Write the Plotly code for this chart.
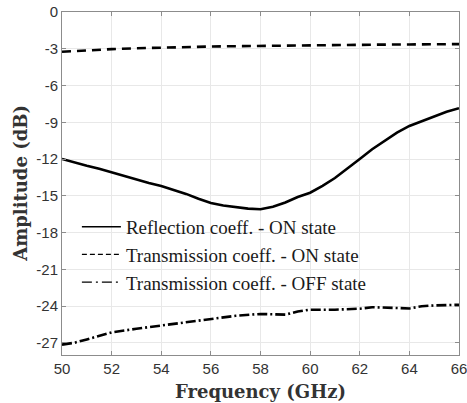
import plotly.graph_objects as go

# Reflection coefficient - ON state
freq_refl = [50, 50.5, 51, 51.5, 52, 52.5, 53, 53.5, 54, 54.5, 55, 55.5, 56, 56.5, 57, 57.5,
             58, 58.5, 59, 59.5, 60, 60.5, 61, 61.5, 62, 62.5, 63, 63.5, 64, 64.5, 65, 65.5, 66]
refl_on = [-12.0, -12.3, -12.55, -12.8, -13.1, -13.35, -13.65, -13.95, -14.2, -14.5, -14.85, -15.25,
           -15.6, -15.8, -15.95, -16.05, -16.1, -15.9, -15.55, -15.1, -14.75, -14.2, -13.55, -12.8,
           -12.0, -11.2, -10.5, -9.85, -9.3, -8.9, -8.5, -8.15, -7.85]

# Transmission coefficient - ON state
freq_tx_on = [50, 51, 52, 53, 54, 55, 56, 57, 58, 59, 60, 61, 62, 63, 64, 65, 66]
tx_on = [-3.25, -3.12, -3.03, -2.96, -2.9, -2.86, -2.82, -2.79, -2.76, -2.73, -2.71, -2.69,
         -2.68, -2.66, -2.65, -2.63, -2.62]

# Transmission coefficient - OFF state
freq_tx_off = [50, 50.5, 51, 51.5, 52, 53, 54, 55, 56, 57, 58, 59, 59.5, 60, 61, 62, 62.5, 63,
               63.5, 64, 64.5, 65, 66]
tx_off = [-27.15, -27.0, -26.73, -26.45, -26.15, -25.86, -25.6, -25.38, -25.1, -24.8, -24.65,
          -24.7, -24.45, -24.3, -24.3, -24.22, -24.1, -24.12, -24.18, -24.2, -24.02, -23.95, -23.9]

x_ticks = [50, 52, 54, 56, 58, 60, 62, 64, 66]
y_ticks = [0, -3, -6, -9, -12, -15, -18, -21, -24, -27]

names = ["Reflection coeff. - ON state",
         "Transmission coeff. - ON state",
         "Transmission coeff. - OFF state"]
x_title = "Frequency (GHz)"
y_title = "Amplitude (dB)"

fig = go.Figure()
fig.add_trace(go.Scatter(x=freq_refl, y=refl_on, mode="lines", showlegend=False,
                         line=dict(color="black", width=2.6)))
fig.add_trace(go.Scatter(x=freq_tx_on, y=tx_on, mode="lines", showlegend=False,
                         line=dict(color="black", width=2.6, dash="9px,6px")))
fig.add_trace(go.Scatter(x=freq_tx_off, y=tx_off, mode="lines", showlegend=False,
                         line=dict(color="black", width=2.6, dash="10px,3px,2px,3px")))

# legend entries (thinner sample lines, as in the reference)
legend_dash = ["solid", "5px,3px", "10px,4px,2px,4px"]
for i, (nm, ds) in enumerate(zip(names, legend_dash)):
    fig.add_trace(go.Scatter(x=[None], y=[None], mode="lines", name=nm, legendgroup=str(i),
                             line=dict(color="black", width=1.4, dash=ds)))

axis_common = dict(showline=True, linecolor="#8c8c8c", linewidth=1, mirror="ticks",
                   ticks="inside", ticklen=4, tickcolor="#8c8c8c", automargin=False,
                   ticklabeloverflow="allow",
                   showgrid=True, gridcolor="#e8e8e8", gridwidth=1, zeroline=False,
                   tickfont=dict(family="Liberation Sans, Arial, sans-serif", size=15, color="#333333"))

serif = "Liberation Serif, Times New Roman, serif"
title_font = "DejaVu Serif, Times New Roman, serif"

fig.update_layout(
    width=467, height=403,
    margin=dict(l=62, r=8, t=12, b=48),
    paper_bgcolor="white", plot_bgcolor="white",
    xaxis=dict(range=[50, 66], tickvals=x_ticks, ticktext=[str(v) for v in x_ticks], **axis_common),
    yaxis=dict(range=[-28, 0], tickvals=y_ticks, ticktext=[str(v) for v in y_ticks], **axis_common),
    legend=dict(x=0.0375, y=0.429, xanchor="left", yanchor="top", bgcolor="rgba(0,0,0,0)",
                borderwidth=0, itemwidth=39, tracegroupgap=0,
                font=dict(family=serif, size=19, color="#1a1a1a")),
    annotations=[
        dict(text="<b>" + x_title + "</b>", xref="paper", yref="paper", x=0.499, y=-0.1065,
             xanchor="center", yanchor="middle", showarrow=False,
             font=dict(family=title_font, size=18, color="#333333")),
        dict(text="<b>" + y_title + "</b>", xref="paper", yref="paper", x=-0.1033, y=0.502,
             xanchor="center", yanchor="middle", showarrow=False, textangle=-90,
             font=dict(family=title_font, size=18, color="#333333")),
    ],
)

fig.write_html("out.html", config={"displayModeBar": False},
               post_script="document.body.style.margin='0';document.body.style.overflow='hidden';")
